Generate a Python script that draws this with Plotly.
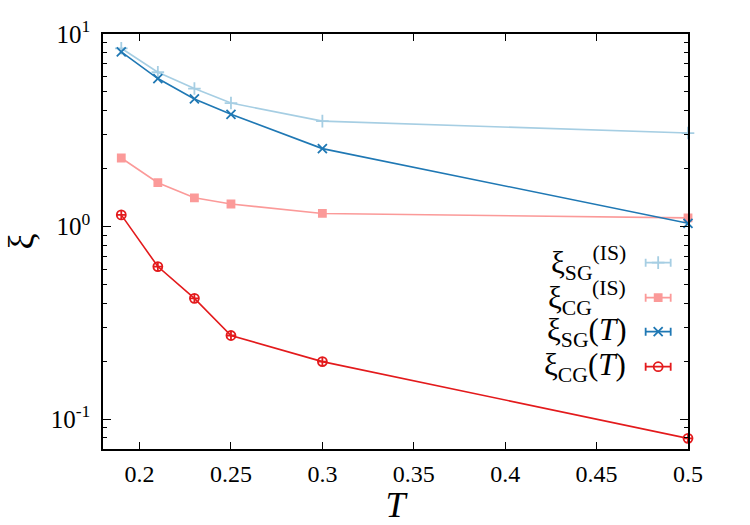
import plotly.graph_objects as go

T = [0.19, 0.21, 0.23, 0.25, 0.3, 0.5]
xi_sg_is = [8.43, 6.33, 5.21, 4.38, 3.53, 3.06]
xi_cg_is = [2.27, 1.69, 1.41, 1.31, 1.17, 1.11]
xi_sg_T = [8.07, 5.87, 4.60, 3.83, 2.54, 1.04]
xi_cg_T = [1.15, 0.62, 0.424, 0.272, 0.199, 0.0795]

names = ["ξ<sub>SG</sub><sup>(IS)</sup>", "ξ<sub>CG</sub><sup>(IS)</sup>",
         "ξ<sub>SG</sub>(<i>T</i>)", "ξ<sub>CG</sub>(<i>T</i>)"]
colors = ["#a6cee3", "#fb9a99", "#1f78b4", "#e31a1c"]
series = [xi_sg_is, xi_cg_is, xi_sg_T, xi_cg_T]
symbols = ["cross-thin-open", "square", "x-thin-open", "circle-cross-open"]
leg_symbols = ["cross-thin-open", "square", "x-thin-open", "circle-open"]
sizes = [9, 7, 9, 9]

xticks = [0.2, 0.25, 0.3, 0.35, 0.4, 0.45, 0.5]
xticklabels = ["0.2", "0.25", "0.3", "0.35", "0.4", "0.45", "0.5"]
yticks = [0.1, 1, 10]
yticklabels = ["10<sup>-1</sup>", "10<sup>0</sup>", "10<sup>1</sup>"]
yminor = [0.07, 0.08, 0.09, 0.2, 0.3, 0.4, 0.5, 0.6, 0.7, 0.8, 0.9,
          2, 3, 4, 5, 6, 7, 8, 9]

FONT = "Liberation Serif"
fig = go.Figure()
for s, c, sym, sz in zip(series, colors, symbols, sizes):
    fig.add_trace(go.Scatter(
        x=T, y=s, mode="lines+markers", cliponaxis=False, showlegend=False,
        line=dict(color=c, width=1.6),
        marker=dict(symbol=sym, size=sz, color=c, line=dict(color=c, width=1.8)),
    ))

# custom legend (gnuplot style: text right, sample left-to-right)
leg_y = [0.449, 0.3646, 0.2827, 0.1983]
leg_x = 0.949
half = 0.0214
for name, c, sym, sz, ly in zip(names, colors, leg_symbols, sizes, leg_y):
    fig.add_trace(go.Scatter(
        x=[leg_x], y=[ly], xaxis="x2", yaxis="y2", mode="markers",
        showlegend=False, cliponaxis=False,
        marker=dict(symbol=sym, size=sz, color=c, line=dict(color=c, width=1.8)),
        error_x=dict(type="constant", value=half, color=c, thickness=1.8, width=4),
    ))
    fig.add_annotation(x=0.897, y=ly, xref="paper", yref="paper", text=name,
                       showarrow=False, xanchor="right", yanchor="middle",
                       font=dict(family=FONT, size=31, color="black"))

axis_common = dict(showline=True, linecolor="black", linewidth=1.5, mirror="allticks",
                   ticks="inside", tickcolor="black", showgrid=False, zeroline=False,
                   automargin=False)
fig.update_layout(
    width=750, height=525,
    margin=dict(l=103, r=62, t=34, b=76),
    plot_bgcolor="white", paper_bgcolor="white",
    font=dict(family=FONT, color="black", size=24),
    xaxis=dict(range=[0.18, 0.5], tickvals=xticks, ticktext=xticklabels, ticklen=7,
               tickfont=dict(family=FONT, size=24, color="black"), ticklabelstandoff=2,
               title=dict(text="<i>T</i>", font=dict(family=FONT, size=36, color="black"), standoff=0),
               **axis_common),
    yaxis=dict(type="log", range=[-1.1549, 1], tickvals=yticks, ticktext=yticklabels, ticklen=8,
               tickfont=dict(family=FONT, size=25, color="black"), ticklabelstandoff=6,
               minor=dict(tickvals=yminor, ticks="inside", ticklen=4, tickcolor="black", showgrid=False),
               title=dict(text="ξ", font=dict(family=FONT, size=36, color="black"), standoff=6),
               **axis_common),
    xaxis2=dict(overlaying="x", range=[0, 1], visible=False),
    yaxis2=dict(overlaying="y", range=[0, 1], visible=False),
)
fig.write_html("out.html")
